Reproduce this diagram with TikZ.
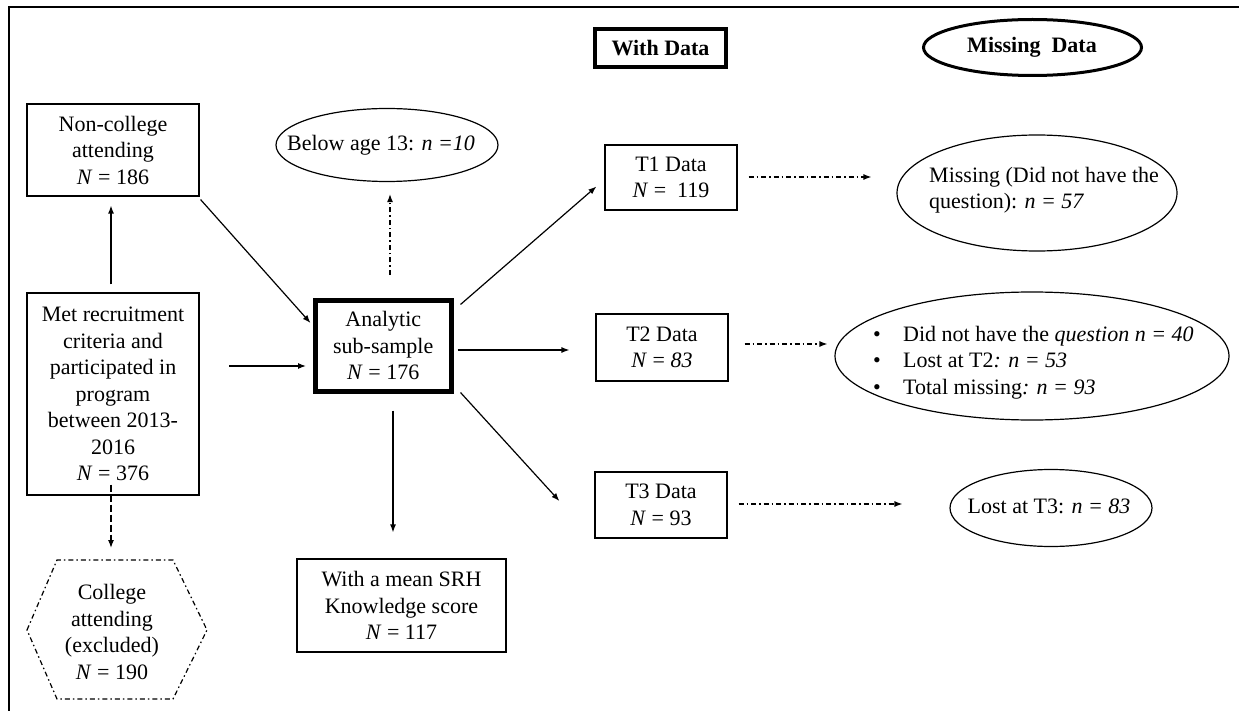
\documentclass[tikz,border=0pt]{standalone}
\usepackage{fontspec}
\setmainfont{Liberation Serif}
\usetikzlibrary{arrows.meta,shapes.geometric,calc}
\tikzset{
  box/.style={draw, line width=1.2pt, inner sep=0pt, align=center},
  ell/.style={draw, ellipse, line width=1.2pt, inner sep=0pt},
  txt/.style={inner sep=0pt},
  arr/.style={-{Latex[length=8pt,width=6pt]}, line width=1.2pt},
  dd/.style={dash pattern=on 5pt off 3pt on 1.5pt off 3pt},
  dsh/.style={dash pattern=on 7pt off 3pt}
}
\begin{document}
\begin{tikzpicture}[x=1pt,y=-1pt,font=\fontsize{22}{26.5}\selectfont]
\useasboundingbox[fill=white] (0,0) rectangle (1239,711);
% frame (top and left)
\draw[line width=2.5pt] (9,711) -- (9,7) -- (1239,7);

% headers
\node[box, line width=4pt, minimum width=131, minimum height=38, font=\fontsize{22}{26.5}\selectfont\bfseries] (wd) at (660.5,48) {With Data};
\node[ell, line width=3pt, minimum width=218, minimum height=56] (md) at (1032.5,47.5) {};
\node[txt, font=\fontsize{22}{26.5}\selectfont\bfseries] (mdt) at (1032,47) {Missing\ \ Data};

% left column
\node[box, minimum width=172, minimum height=92] (nc) at (113,150) {Non-college\\attending\\\textit{N} = 186};
\node[box, minimum width=172, minimum height=202] (met) at (113,394) {Met recruitment\\criteria and\\participated in\\program\\between 2013-\\2016\\\textit{N} = 376};
\draw[dd, line width=1.2pt] (27,630) -- (57,560) -- (173,560) -- (207,630) -- (173,699) -- (57,699) -- cycle;
\coordinate (hextop) at (111,560);
\node[txt, align=center] (hex) at (112,632) {College\\attending\\(excluded)\\\textit{N} = 190};

% centre
\node[box, line width=5pt, minimum width=135.5, minimum height=90.5] (an) at (383.25,345.75) {Analytic\\sub-sample\\\textit{N} = 176};
\node[ell, minimum width=222, minimum height=73] (below) at (387,145) {};
\node[txt] (belowt) at (381,145) {Below age 13: \textit{n =10}};
\node[box, minimum width=209, minimum height=93] (srh) at (401.5,605.5) {With a mean SRH\\Knowledge score\\\textit{N} = 117};

% with data
\node[box, minimum width=132, minimum height=65] (t1) at (671,177.5) {T1 Data\\\textit{N} =\ \ 119};
\node[box, minimum width=132, minimum height=67] (t2) at (662,347.5) {T2 Data\\\textit{N} = \textit{83}};
\node[box, minimum width=132, minimum height=66] (t3) at (661,505) {T3 Data\\\textit{N} = 93};

% missing data
\node[ell, minimum width=280, minimum height=116] (m1) at (1037,193) {};
\node[txt, align=left, anchor=west] (m1t) at (929,190) {Missing (Did not have the\\question): \textit{n = 57}};
\node[ell, minimum width=394, minimum height=128] (m2) at (1032,356) {};
\node[txt, align=left, anchor=west] (m2t) at (873,362.5) {\makebox[30pt][l]{\textbullet}Did not have the \textit{question n = 40}\\\makebox[30pt][l]{\textbullet}Lost at T2\textit{: n = 53}\\\makebox[30pt][l]{\textbullet}Total missing\textit{: n = 93}};
\node[ell, minimum width=202, minimum height=77] (m3) at (1051,508) {};
\node[txt] (m3t) at (1049,506) {Lost at T3: \textit{n = 83}};

% connectors
\draw[arr, shorten >=9pt, shorten <=8pt] ($(met.north)+(-2,0)$) -- ($(nc.south)+(-2,0)$);
\draw[arr, dsh] ($(met.south)+(-2,-11)$) -- ($(hextop)+(0,-12)$);
\draw[arr] ($(nc.south east)+(1,3)$) -- ($(an.north west)+(-2.5,25)$);
\coordinate (mstart) at (229,366);
\draw[arr] (mstart) -- (306,366);
\draw[arr, dd] ($(an.north)+(6.75,-23)$) -- ($(below.south)+(3,12)$);
\draw[arr] ($(an.south)+(9.75,17)$) -- ($(srh.north)+(-8.5,-26)$);
\draw[arr] ($(an.north east)+(7,6.5)$) -- ($(t1.west)+(-8,9)$);
\draw[arr] ($(an.east)+(4,4.25)$) -- ($(t2.west)+(-26,2.5)$);
\draw[arr] ($(an.south east)+(7,-1)$) -- ($(t3.west)+(-35,-4)$);
\draw[arr, dd] ($(t1.east)+(11,-0.5)$) -- ($(m1.west)+(-25,-16)$);
\draw[arr, dd] ($(t2.east)+(16,-3.5)$) -- ($(m2.west)+(-7,-12)$);
\draw[arr, dd] ($(t3.east)+(11,-1)$) -- ($(m3.west)+(-47,-4)$);
\end{tikzpicture}
\end{document}
